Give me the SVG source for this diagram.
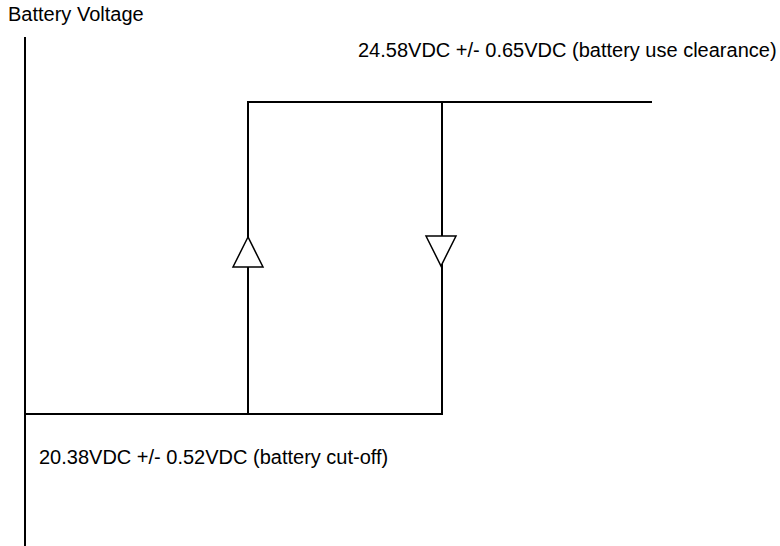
<svg xmlns="http://www.w3.org/2000/svg" width="780" height="546" viewBox="0 0 780 546">
<style>
.t{font-family:"Liberation Sans",Arial,sans-serif;font-size:20px;fill:#000}
.l{stroke:#000;stroke-width:2;fill:none}
.a{stroke:#000;stroke-width:1.5;fill:#fff}
</style>
<rect width="780" height="546" fill="#fff"/>
<g id="axis">
<line class="l" x1="25" y1="37" x2="25" y2="546"/>
<text class="t" x="8" y="21">Battery Voltage</text>
</g>
<g id="connectors">
<polyline class="l" points="25,414 442,414 442,102"/>
<polyline class="l" points="248,414 248,102 652,102"/>
</g>
<g id="arrow-up"><polygon class="a" points="248,237 233,267 263,267"/></g>
<g id="arrow-down"><polygon class="a" points="426,236 456,236 441,266"/></g>
<g id="high"><text class="t" x="358" y="57">24.58VDC +/- 0.65VDC (battery use clearance)</text></g>
<g id="low"><text class="t" x="39" y="464">20.38VDC +/- 0.52VDC (battery cut-off)</text></g>
</svg>
